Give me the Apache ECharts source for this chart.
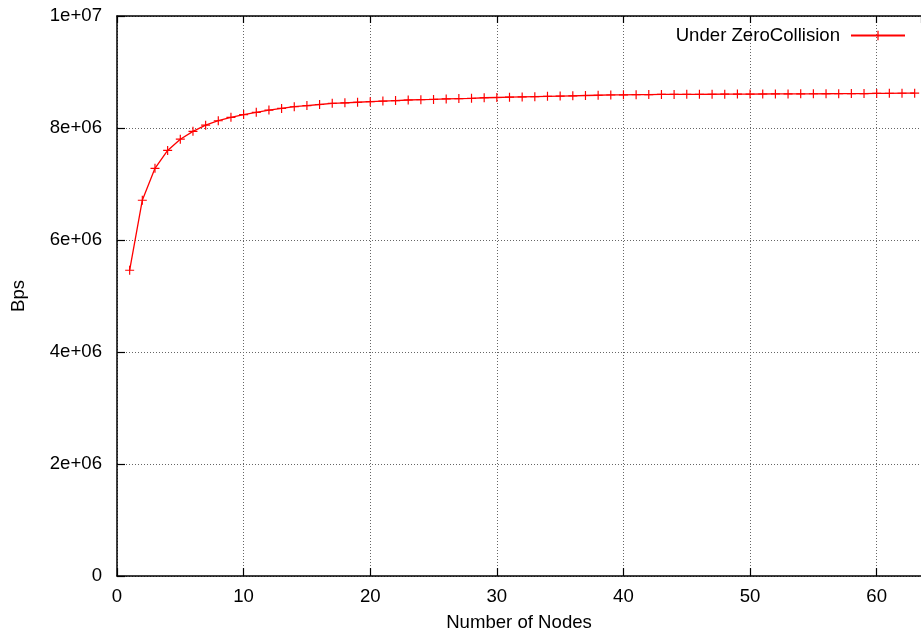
<!DOCTYPE html>
<html>
<head>
<meta charset="utf-8">
<script src="https://cdn.jsdelivr.net/npm/echarts@6/dist/echarts.min.js"></script>
<style>
html,body{margin:0;padding:0;background:#fff;}
#chart{width:921px;height:637px;}
</style>
</head>
<body>
<div id="chart"></div>
<script>
// ---- data ----
const seriesName = 'Under ZeroCollision';
const nodes = [1,2,3,4,5,6,7,8,9,10,11,12,13,14,15,16,17,18,19,20,21,22,23,24,25,26,27,28,29,30,31,32,33,34,35,36,37,38,39,40,41,42,43,44,45,46,47,48,49,50,51,52,53,54,55,56,57,58,59,60,61,62,63];
const bps = [5.46e6,6.71e6,7.28e6,7.60e6,7.80e6,7.94e6,8.05e6,8.13e6,8.19e6,8.24e6,
  8.28e6,8.32e6,8.35e6,8.38e6,8.40e6,8.42e6,8.44e6,8.45e6,8.46e6,8.47e6,
  8.48e6,8.49e6,8.50e6,8.505e6,8.51e6,8.52e6,8.525e6,8.53e6,8.54e6,8.545e6,
  8.55e6,8.555e6,8.56e6,8.565e6,8.57e6,8.575e6,8.58e6,8.585e6,8.59e6,8.592e6,
  8.595e6,8.597e6,8.599e6,8.600e6,8.601e6,8.602e6,8.603e6,8.604e6,8.605e6,8.606e6,
  8.607e6,8.608e6,8.609e6,8.610e6,8.611e6,8.612e6,8.613e6,8.614e6,8.615e6,8.617e6,
  8.620e6,8.621e6,8.622e6];
const xTicks = [0,10,20,30,40,50,60];
const yTicks = [0,2e6,4e6,6e6,8e6,1e7];

const FONT = "'Liberation Sans', Arial, Helvetica, sans-serif";
const FS = 18.6;
function sci(v){
  if (v === 0) return '0';
  const e = Math.floor(Math.log10(v) + 1e-9);
  const m = Math.round(v / Math.pow(10, e) * 1000) / 1000;
  return m + 'e+' + (e < 10 ? '0' + e : e);
}
const plus = 'path://M0,4.35H10V5.65H0Z M4.35,0H5.65V10H4.35Z';

const chart = echarts.init(document.getElementById('chart'), null, {renderer:'canvas'});
chart.setOption({
  animation:false,
  backgroundColor:'#fff',
  textStyle:{fontFamily:FONT},
  grid:{left:117, right:0, top:16, bottom:61, containLabel:false},
  legend:{
    data:[seriesName],
    right:15, top:26, padding:0,
    align:'right',
    itemWidth:54, itemHeight:12,
    textStyle:{fontFamily:FONT, fontSize:FS, color:'#000', padding:[0,6,0,0]}
  },
  xAxis:[{
    type:'value', min:0, max:63.5, interval:10,
    name:'Number of Nodes', nameLocation:'middle', nameGap:37,
    nameTextStyle:{fontFamily:FONT, fontSize:FS, color:'#000'},
    axisLine:{show:true, onZero:false, lineStyle:{color:'#000', width:1.5}},
    axisTick:{show:true, inside:true, length:8, lineStyle:{color:'#000', width:1.2}},
    axisLabel:{fontFamily:FONT, fontSize:FS, color:'#000', margin:11, showMaxLabel:false,
      formatter:function(v){ return xTicks.indexOf(v) >= 0 ? String(v) : ''; }},
    splitLine:{show:true, lineStyle:{color:'#666', type:[1,2], width:1}}
  },{
    type:'value', position:'top', min:0, max:63.5, interval:10,
    axisLine:{show:true, onZero:false, lineStyle:{color:'#000', width:1.5}},
    axisTick:{show:true, inside:true, length:7, lineStyle:{color:'#000', width:1.2}},
    axisLabel:{show:false},
    splitLine:{show:false}
  }],
  yAxis:{
    type:'value', min:0, max:1e7, interval:2e6,
    name:'Bps', nameLocation:'middle', nameGap:89, nameRotate:90,
    nameTextStyle:{fontFamily:FONT, fontSize:FS, color:'#000'},
    axisLine:{show:true, onZero:false, lineStyle:{color:'#000', width:1.5}},
    axisTick:{show:true, inside:true, length:8, lineStyle:{color:'#000', width:1.2}},
    axisLabel:{fontFamily:FONT, fontSize:FS, color:'#000', margin:15,
      formatter:function(v){ return yTicks.indexOf(v) >= 0 ? sci(v) : ''; }},
    splitLine:{show:true, lineStyle:{color:'#666', type:[1,2], width:1}}
  },
  series:[{
    name:seriesName, type:'line', xAxisIndex:0,
    data: nodes.map((n,i)=>[n, bps[i]]),
    symbol:plus, symbolSize:9, showAllSymbol:true,
    lineStyle:{color:'#ff0000', width:1.3},
    itemStyle:{color:'#ff0000'},
    clip:false
  }]
});
</script>
</body>
</html>
